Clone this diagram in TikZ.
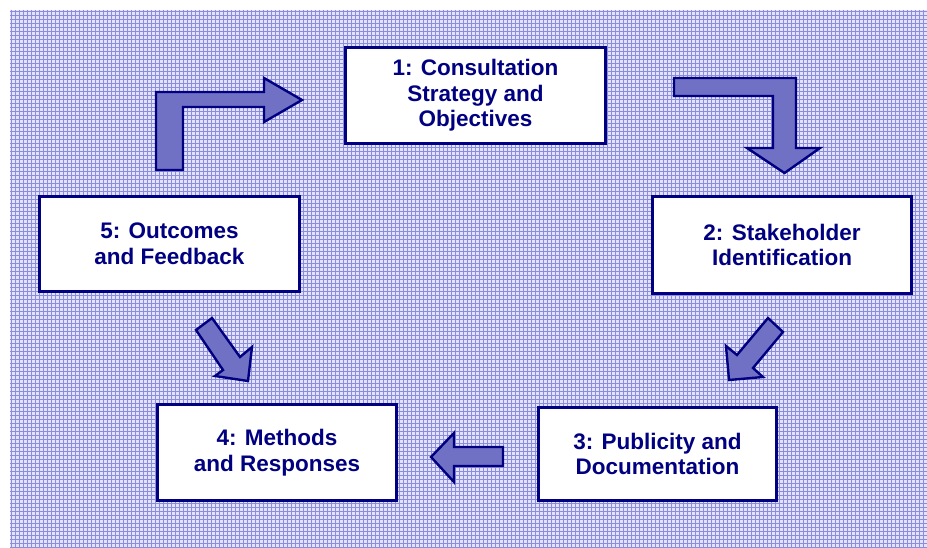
\documentclass[tikz,border=0pt]{standalone}
\usepackage{fontspec}
\setmainfont{Liberation Sans}
\definecolor{navy}{RGB}{0,0,128}
\definecolor{bgfill}{RGB}{226,226,252}
\definecolor{bgline}{RGB}{140,140,220}
\definecolor{arrowfill}{RGB}{112,112,196}
\tikzset{
  stagebox/.style={draw=navy, line width=3.2pt, fill=white, text=navy, align=center,
    inner sep=0pt, font=\fontsize{22.5}{25.5}\selectfont\bfseries},
  blockarrow/.style={draw=navy, line width=2.4pt, fill=arrowfill, line join=miter}
}
\begin{document}
\begin{tikzpicture}[x=1pt,y=-1pt]
\useasboundingbox (0,0) rectangle (927,548);
% background
\fill[bgfill] (10,10) rectangle (927,548);
\foreach \xx in {11.5,15.5,...,927} {\draw[bgline, line width=1.1pt] (\xx,10) -- (\xx,548);}
\foreach \yy in {11.5,15.5,...,548} {\draw[bgline, line width=1.1pt] (10,\yy) -- (927,\yy);}
% stages
\node[stagebox, minimum width=260pt, minimum height=96pt] (s1) at (475.5,95.5) {1: Consultation\\Strategy and\\Objectives};
\node[stagebox, minimum width=259pt, minimum height=97pt] (s2) at (782,245) {2: Stakeholder\\Identification};
\node[stagebox, minimum width=238pt, minimum height=93pt] (s3) at (657.5,454) {3: Publicity and\\Documentation};
\node[stagebox, minimum width=239pt, minimum height=96pt] (s4) at (277,452.5) {4: Methods\\and Responses};
\node[stagebox, minimum width=260pt, minimum height=95pt] (s5) at (169.5,244) {5: Outcomes\\and Feedback};
% block arrows
\draw[blockarrow] (156,170) -- (156,92) -- (264,92) -- (264,78) -- (302,100) -- (264,122) -- (264,107) -- (183,107) -- (183,170) -- cycle;
\draw[blockarrow] (674,78) -- (796,78) -- (796,148) -- (820,148) -- (784.5,173) -- (747,148) -- (773,148) -- (773,96) -- (674,96) -- cycle;
\draw[blockarrow] (768,318) -- (783,332) -- (753,368) -- (763,377) -- (729,380) -- (726,346) -- (737,355) -- cycle;
\draw[blockarrow] (196,330) -- (212,318) -- (240,357) -- (252,347) -- (248,381) -- (215,376) -- (223,370) -- cycle;
\draw[blockarrow] (503,447) -- (454,447) -- (454,433) -- (431,457) -- (454,482) -- (454,466) -- (503,466) -- cycle;
\end{tikzpicture}
\end{document}
